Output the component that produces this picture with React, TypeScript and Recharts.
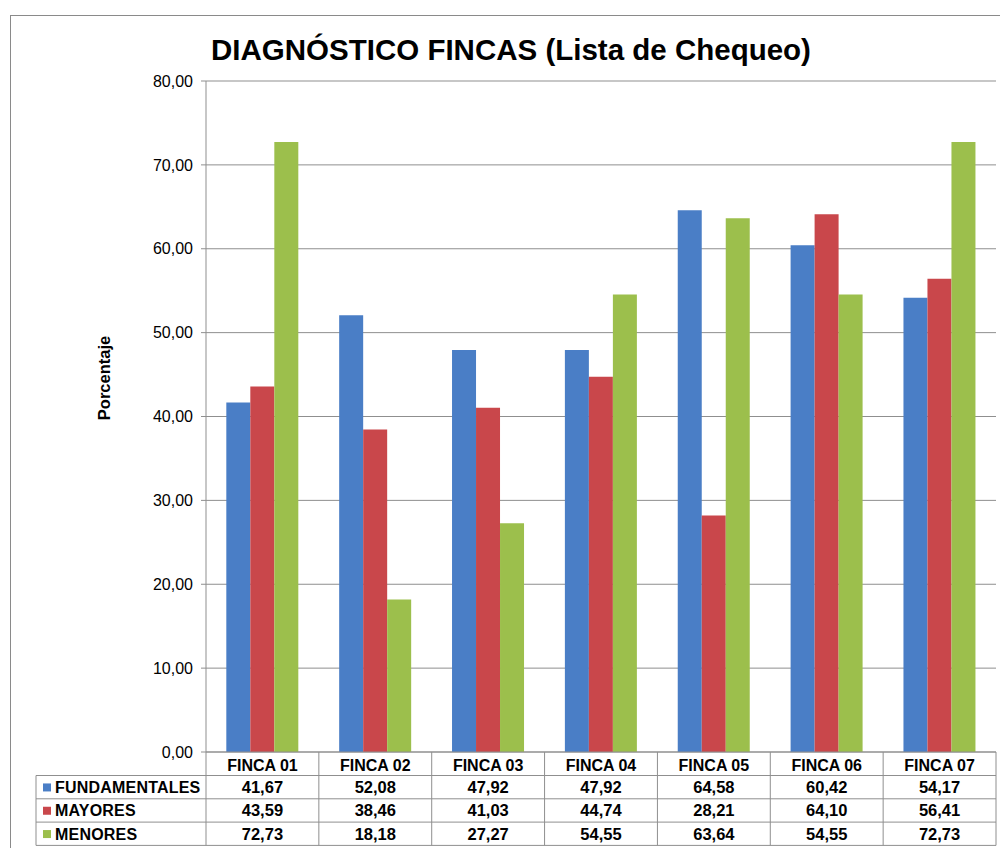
import { Bar, BarChart, CartesianGrid, XAxis, YAxis } from 'recharts';

const CATEGORIES = ['FINCA 01', 'FINCA 02', 'FINCA 03', 'FINCA 04', 'FINCA 05', 'FINCA 06', 'FINCA 07'];
const FUNDAMENTALES = [41.67, 52.08, 47.92, 47.92, 64.58, 60.42, 54.17];
const MAYORES = [43.59, 38.46, 41.03, 44.74, 28.21, 64.1, 56.41];
const MENORES = [72.73, 18.18, 27.27, 54.55, 63.64, 54.55, 72.73];
const Y_TICKS = [0, 10, 20, 30, 40, 50, 60, 70, 80];

const SERIES = [
  { key: 'fundamentales', label: 'FUNDAMENTALES', values: FUNDAMENTALES, color: '#4A7EC6' },
  { key: 'mayores', label: 'MAYORES', values: MAYORES, color: '#C9474B' },
  { key: 'menores', label: 'MENORES', values: MENORES, color: '#9CBF4C' },
];

const fmt = (v: number) => v.toFixed(2).replace('.', ',');

const data = CATEGORIES.map((name, i) => ({
  name,
  fundamentales: FUNDAMENTALES[i],
  mayores: MAYORES[i],
  menores: MENORES[i],
}));

const W = 1000;
const H = 848;
const PLOT_LEFT = 206;
const PLOT_RIGHT = 996;
const PLOT_TOP = 81;
const PLOT_BOTTOM = 752;
const BAND = (PLOT_RIGHT - PLOT_LEFT) / CATEGORIES.length;
const ROW_H = 23.3;
const HEADER_BOTTOM = 775.5;
const TABLE_LEFT = 36;
const LINE = '#8f8f8f';
const FONT = '"Liberation Sans", Arial, sans-serif';

export default function App() {
  const tableBottom = HEADER_BOTTOM + ROW_H * SERIES.length;

  return (
    <div
      style={{
        position: 'absolute',
        left: 0,
        top: 0,
        width: W,
        height: H,
        overflow: 'hidden',
        background: '#fff',
        fontFamily: FONT,
      }}
    >
      <div
        style={{
          position: 'absolute',
          left: 10,
          top: 15,
          width: 1100,
          height: 1000,
          border: '1px solid #8a8a8a',
        }}
      />

      <div style={{ position: 'absolute', left: 0, top: 0 }}>
        <BarChart
          width={W}
          height={H}
          data={data}
          margin={{ top: PLOT_TOP, right: W - PLOT_RIGHT, bottom: 0, left: PLOT_LEFT - 60 }}
          barCategoryGap="18%"
          barGap={0}
        >
          <CartesianGrid vertical={false} stroke={LINE} />
          <XAxis
            dataKey="name"
            height={H - PLOT_BOTTOM}
            axisLine={{ stroke: LINE }}
            tickLine={false}
            tickSize={0}
            tickMargin={8}
            tick={{ fontSize: 16, fontWeight: 700, fill: '#000', fontFamily: FONT }}
            interval={0}
          />
          <YAxis
            width={60}
            domain={[0, 80]}
            ticks={Y_TICKS}
            tickFormatter={fmt}
            axisLine={{ stroke: LINE }}
            tickLine={{ stroke: LINE }}
            tickSize={5}
            tickMargin={8}
            tick={{ fontSize: 16, fill: '#000', fontFamily: FONT }}
          />
          {SERIES.map((s) => (
            <Bar key={s.key} dataKey={s.key} fill={s.color} isAnimationActive={false} />
          ))}
        </BarChart>
      </div>

      <svg
        width={W}
        height={H}
        style={{ position: 'absolute', left: 0, top: 0, pointerEvents: 'none' }}
        fontFamily={FONT}
      >
        <text x={511} y={60} textAnchor="middle" fontSize={29.5} fontWeight={700} fill="#000">
          DIAGNÓSTICO FINCAS (Lista de Chequeo)
        </text>
        <text
          transform="translate(110,378) rotate(-90)"
          textAnchor="middle"
          fontSize={16.5}
          fontWeight={700}
          fill="#000"
        >
          Porcentaje
        </text>

        {/* data table grid */}
        {CATEGORIES.map((_, i) => (
          <line
            key={`v${i}`}
            x1={PLOT_LEFT + i * BAND}
            x2={PLOT_LEFT + i * BAND}
            y1={PLOT_BOTTOM}
            y2={tableBottom}
            stroke={LINE}
          />
        ))}
        <line x1={PLOT_RIGHT} x2={PLOT_RIGHT} y1={PLOT_BOTTOM} y2={tableBottom} stroke={LINE} />
        <line x1={TABLE_LEFT} x2={TABLE_LEFT} y1={HEADER_BOTTOM} y2={tableBottom} stroke={LINE} />
        {[0, 1, 2, 3].map((r) => (
          <line
            key={`h${r}`}
            x1={TABLE_LEFT}
            x2={PLOT_RIGHT}
            y1={HEADER_BOTTOM + r * ROW_H}
            y2={HEADER_BOTTOM + r * ROW_H}
            stroke={LINE}
          />
        ))}

        {SERIES.map((s, r) => {
          const base = HEADER_BOTTOM + r * ROW_H + ROW_H / 2 + 5.8;
          return (
            <g key={s.key}>
              <rect x={43} y={base - 9.5} width={8} height={8} fill={s.color} />
              <text x={55} y={base} fontSize={16} letterSpacing={0.2} fontWeight={700} fill="#000">
                {s.label}
              </text>
              {s.values.map((v, i) => (
                <text
                  key={i}
                  x={PLOT_LEFT + (i + 0.5) * BAND}
                  y={base}
                  textAnchor="middle"
                  fontSize={16.5}
                  fontWeight={700}
                  fill="#000"
                >
                  {fmt(v)}
                </text>
              ))}
            </g>
          );
        })}
      </svg>
    </div>
  );
}
